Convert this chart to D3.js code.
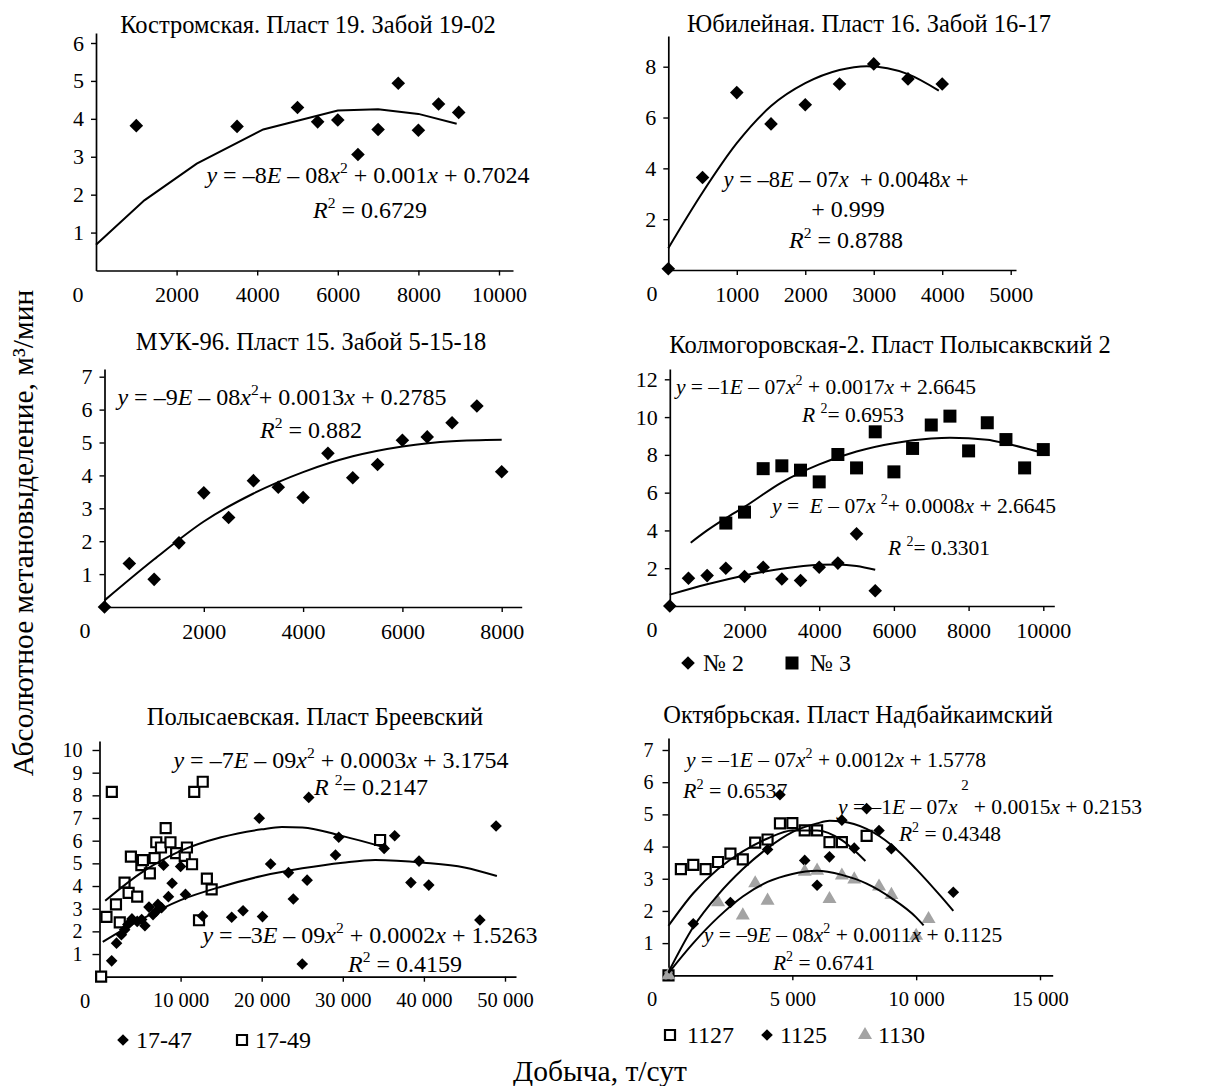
<!DOCTYPE html>
<html>
<head>
<meta charset="utf-8">
<title>Абсолютное метановыделение</title>
<style>
  body { margin: 0; background: white; }
  svg text { font-family: "Liberation Serif", "Times New Roman", serif; fill: black; }
  .title { font-size: 24.5px; text-anchor: middle; }
  .eq { white-space: pre; }
  .legend-txt { font-size: 24px; }
  .axis-label { font-size: 29.5px; text-anchor: middle; }
  .trend { fill: none; stroke: black; stroke-width: 2; }
</style>
</head>
<body>
<svg id="chart"></svg>

<script src="https://cdn.jsdelivr.net/npm/d3@7"></script>
<script>
// Костромская. Пласт 19. Забой 19-02
var p1X = [1000, 3500, 5000, 5500, 6000, 6500, 7000, 7500, 8000, 8500, 9000];
var p1Y = [3.82, 3.8, 4.3, 3.92, 3.97, 3.06, 3.72, 4.94, 3.7, 4.39, 4.17];
var p1FitX = [0, 1200, 2500, 4150, 6000, 7000, 8000, 8950];
var p1FitY = [0.68, 1.85, 2.82, 3.72, 4.22, 4.25, 4.13, 3.87];

// Юбилейная. Пласт 16. Забой 16-17
var p2X = [0, 500, 1000, 1500, 2000, 2500, 3000, 3500, 4000];
var p2Y = [0.05, 3.64, 6.98, 5.75, 6.5, 7.32, 8.11, 7.52, 7.32];
var p2FitX = [0, 500, 1000, 1500, 2000, 2500, 2900, 3500, 3950];
var p2FitY = [0.86, 3.05, 4.99, 6.45, 7.35, 7.87, 8.02, 7.71, 7.06];

// МУК-96. Пласт 15. Забой 5-15-18
var p3X = [0, 500, 1000, 1500, 2000, 2500, 3000, 3500, 4000, 4500, 5000, 5500, 6000, 6500, 7000, 7500, 8000];
var p3Y = [0, 1.32, 0.84, 1.95, 3.47, 2.72, 3.84, 3.64, 3.33, 4.67, 3.93, 4.33, 5.07, 5.17, 5.6, 6.11, 4.11];
var p3FitX = [0, 1000, 2000, 3000, 4000, 5000, 6000, 7000, 8000];
var p3FitY = [0.2, 1.45, 2.6, 3.45, 4.1, 4.58, 4.88, 5.04, 5.08];

// Колмогоровская-2. Пласт Полысаквский 2  (№ 2 и № 3)
var p4aX = [0, 500, 1000, 1500, 2000, 2500, 3000, 3500, 4000, 4500, 5000, 5500];
var p4aY = [0, 1.47, 1.61, 2.0, 1.56, 2.05, 1.43, 1.35, 2.05, 2.27, 3.82, 0.81];
var p4bX = [1500, 2000, 2500, 3000, 3500, 4000, 4500, 5000, 5500, 6000, 6500, 7000, 7500, 8000, 8500, 9000, 9500, 10000];
var p4bY = [4.39, 4.97, 7.27, 7.42, 7.19, 6.57, 8.02, 7.31, 9.22, 7.1, 8.34, 9.58, 10.05, 8.21, 9.7, 8.81, 7.31, 8.28];
var p4aFitX = [0, 1000, 2000, 3000, 4000, 4500, 5000, 5500];
var p4aFitY = [0.6, 1.15, 1.62, 1.97, 2.18, 2.2, 2.12, 1.92];
var p4bFitX = [560, 1000, 1500, 2000, 3000, 4000, 5000, 6000, 7000, 7500, 8500, 9000, 10000];
var p4bFitY = [3.35, 4.0, 4.65, 5.25, 6.55, 7.5, 8.18, 8.62, 8.86, 8.9, 8.8, 8.6, 8.1];

// Полысаевская. Пласт Бреевский  (17-47 и 17-49)
var p5aX = [1500, 2100, 2700, 3100, 3500, 4000, 4650, 5200, 5600, 6100, 6600, 7000, 7200, 7650, 7900, 8500, 8950, 10000, 10600, 12700,
            16300, 17700, 19700, 20100, 21100, 23300, 23900, 25000, 25600, 25800, 29100, 29500, 35100, 36400, 38400, 39400, 40600, 46900, 48900];
var p5aY = [0.7, 1.48, 1.85, 2.07, 2.3, 2.55, 2.44, 2.52, 2.25, 3.07, 2.74, 2.89, 3.19, 3.04, 4.92, 3.53, 4.12, 4.86, 3.63, 2.68,
            2.62, 2.91, 6.99, 2.65, 4.97, 4.59, 3.43, 0.56, 4.26, 7.91, 5.37, 6.15, 5.66, 6.22, 4.15, 5.1, 4.04, 2.5, 6.65];
var p5bX = [200, 860, 1520, 2030, 2500, 3090, 3590, 3870, 4650, 5160, 5350, 6210, 6800, 7000, 7580, 8160, 8750, 9450, 10510, 10780,
            11410, 11680, 12270, 12730, 13240, 13830, 34600];
var p5bY = [0, 2.64, 8.15, 3.19, 2.4, 4.15, 3.7, 5.3, 3.53, 4.92, 5.14, 4.56, 5.23, 5.93, 5.7, 6.55, 5.93, 5.45, 5.33, 5.7,
            4.96, 8.15, 2.49, 8.6, 4.33, 3.85, 6.03];
var p5aFitX = [400, 5000, 10000, 15000, 20000, 25000, 30000, 34000, 40000, 45000, 49000];
var p5aFitY = [1.54, 2.5, 3.38, 3.97, 4.44, 4.78, 5.03, 5.15, 5.03, 4.82, 4.44];
var p5bFitX = [700, 5000, 10000, 15000, 20000, 22500, 25000, 30000, 35000];
var p5bFitY = [3.35, 4.55, 5.55, 6.15, 6.5, 6.6, 6.58, 6.2, 5.72];

// Октябрьская. Пласт Надбайкаимский  (1127, 1125, 1130)
var p6aX = [0, 500, 1000, 1500, 2000, 2500, 3000, 3500, 4000, 4500, 5000, 5500, 6000, 6500, 7000, 8000];
var p6aY = [0, 3.3, 3.43, 3.3, 3.52, 3.78, 3.6, 4.12, 4.22, 4.72, 4.73, 4.5, 4.5, 4.14, 4.14, 4.33];
var p6bX = [0, 1000, 2500, 4000, 4500, 5500, 6000, 6500, 7000, 7500, 8000, 8500, 9000, 11500];
var p6bY = [0, 1.6, 2.26, 3.91, 5.61, 3.57, 2.8, 3.68, 4.82, 3.95, 5.18, 4.5, 3.93, 2.58];
var p6cX = [0, 2000, 3000, 3500, 4000, 5500, 6000, 6500, 7000, 7500, 8500, 9000, 10000, 10500];
var p6cY = [0, 2.27, 1.86, 2.86, 2.32, 3.22, 3.25, 2.37, 3.1, 2.98, 2.76, 2.5, 1.23, 1.75];
var p6aFitX = [0, 1000, 2000, 3000, 4000, 5000, 6000, 7000, 7950];
var p6aFitY = [1.54, 2.55, 3.3, 3.85, 4.25, 4.5, 4.5, 4.2, 3.55];
var p6bFitX = [0, 1000, 2000, 3000, 4000, 5000, 6000, 6500, 7000, 8000, 9000, 10000, 11000, 11500];
var p6bFitY = [0.1, 1.5, 2.5, 3.3, 3.95, 4.45, 4.72, 4.8, 4.78, 4.55, 4.05, 3.3, 2.45, 2.0];
var p6cFitX = [0, 1000, 2000, 3000, 4000, 5000, 6000, 7000, 8000, 9000, 10000, 10300];
var p6cFitY = [0.07, 1.0, 1.8, 2.45, 2.9, 3.15, 3.25, 3.12, 2.85, 2.4, 1.8, 1.55];

var W = 1227, H = 1086;
var svg = d3.select("#chart").attr("width", W).attr("height", H);

// marker shapes
function diamond(r) { return "M0," + (-r) + "L" + r + ",0L0," + r + "L" + (-r) + ",0Z"; }
function square(s) { var h = s / 2; return "M" + (-h) + "," + (-h) + "H" + h + "V" + h + "H" + (-h) + "Z"; }
function triangle(s) { var h = s * 0.866; return "M0," + (-h * 2 / 3) + "L" + (s / 2) + "," + (h / 3) + "L" + (-s / 2) + "," + (h / 3) + "Z"; }

var marks = {
  dia: { d: diamond(6.8), fill: "black" },
  diaS: { d: diamond(5.8), fill: "black" },
  sq: { d: square(13), fill: "black" },
  open: { d: square(10), fill: "white", stroke: "black" },
  tri: { d: triangle(14), fill: "#a3a3a3" }
};

function drawMark(g, m, x, y) {
  g.append("path").attr("d", m.d)
    .attr("transform", "translate(" + x + "," + y + ")")
    .attr("fill", m.fill)
    .attr("stroke", m.stroke || "none")
    .attr("stroke-width", m.stroke ? 2.2 : 0);
}

// equation text: y, E, x, R in italics, ^2 -> superscript
function eq(g, x, y, str, anchor, fs) {
  fs = fs || 24;
  var t = g.append("text").attr("class", "eq").attr("x", x).attr("y", y)
    .attr("font-size", fs).attr("text-anchor", anchor || "middle");
  var up = false, lift = Math.round(fs * 0.42);
  str.match(/\^2|[yExR]|[^yExR^]+/g).forEach(function(tok) {
    var s = t.append("tspan");
    if (tok === "^2") {
      s.attr("dy", -lift).attr("font-size", fs * 0.65).text("2");
      up = true;
      return;
    }
    if (up) { s.attr("dy", lift); up = false; }
    if (/^[yExR]$/.test(tok)) s.attr("font-style", "italic");
    s.text(tok);
  });
}

var spaced = function(d) { return d3.format(",")(d).replace(/,/g, " "); };

function panel(c) {
  var xDom = c.xMax * (c.xEnd - c.xL) / (c.xR - c.xL);
  var yDom = c.yMax * (c.yB - c.yTop) / (c.yB - c.yT);
  var x = d3.scaleLinear().domain([0, xDom]).range([c.xL, c.xEnd]);
  var y = d3.scaleLinear().domain([0, yDom]).range([c.yB, c.yTop]);
  var g = svg.append("g");

  g.append("text").attr("class", "title").attr("x", c.titleX).attr("y", c.titleY).text(c.title);

  var ax = g.append("g")
    .attr("transform", "translate(0," + c.yB + ")")
    .call(d3.axisBottom(x).tickValues(c.xTicks).tickSize(5).tickSizeOuter(0).tickPadding(11)
      .tickFormat(c.fmt || d3.format("d")));
  ax.attr("font-size", c.xFs || 22);
  var ay = g.append("g")
    .attr("transform", "translate(" + c.xL + ",0)")
    .call(d3.axisLeft(y).tickValues(c.yTicks).tickSize(c.yTick || 5).tickSizeOuter(0).tickPadding(c.yPad || 7)
      .tickFormat(d3.format("d")));
  ay.attr("font-size", c.yFs || 22);
  g.selectAll(".domain").attr("stroke-width", 1.7);
  g.selectAll(".tick line").attr("stroke-width", 1.4);

  // shared zero at the corner
  g.append("text").attr("x", c.zeroX).attr("y", c.yB + 31)
    .attr("text-anchor", "middle").attr("font-size", c.xFs || 22).text("0");

  var line = d3.line().x(function(d) { return x(d[0]); }).y(function(d) { return y(d[1]); })
    .curve(c.curve || d3.curveMonotoneX);

  c.series.forEach(function(s) {
    s.xs.forEach(function(v, i) { drawMark(g, s.mark, x(v), y(s.ys[i])); });
  });
  c.fits.forEach(function(f) {
    g.append("path").attr("class", "trend")
      .attr("d", line(d3.zip(f[0], f[1])));
  });
  c.eqs.forEach(function(e) { eq(g, e[0], e[1], e[2], e[3], e[4]); });

  (c.legend || []).forEach(function(l) {
    drawMark(g, l.mark, l.x, l.y);
    g.append("text").attr("class", "legend-txt").attr("x", l.tx).attr("y", l.y + 8).text(l.label);
  });
}

panel({
  title: "Костромская. Пласт 19. Забой 19-02", titleX: 308, titleY: 33,
  xL: 96, xR: 499, xMax: 10000, xEnd: 513, yB: 270.5, yT: 43, yMax: 6, yTop: 33,
  xTicks: [2000, 4000, 6000, 8000, 10000], yTicks: [1, 2, 3, 4, 5, 6], zeroX: 78,
  curve: d3.curveLinear,
  series: [{ xs: p1X, ys: p1Y, mark: marks.dia }],
  fits: [[p1FitX, p1FitY]],
  eqs: [[368, 183, "y = –8E – 08x^2 + 0.001x + 0.7024"], [370, 218, "R^2 = 0.6729"]]
});

panel({
  title: "Юбилейная. Пласт 16. Забой 16-17", titleX: 869, titleY: 32,
  xL: 668.3, xR: 1010.7, xMax: 5000, xEnd: 1016, yB: 270, yT: 66.7, yMax: 8, yTop: 36,
  xTicks: [1000, 2000, 3000, 4000, 5000], yTicks: [2, 4, 6, 8], zeroX: 652,
  series: [{ xs: p2X, ys: p2Y, mark: marks.dia }],
  fits: [[p2FitX, p2FitY]],
  eqs: [[846, 187, "y = –8E – 07x  + 0.0048x +", "middle", 22.5], [848, 217, "+ 0.999"], [846, 248, "R^2 = 0.8788"]]
});

panel({
  title: "МУК-96. Пласт 15. Забой 5-15-18", titleX: 311, titleY: 350,
  xL: 104.5, xR: 501.7, xMax: 8000, xEnd: 521.7, yB: 607, yT: 376.7, yMax: 7, yTop: 369,
  xTicks: [2000, 4000, 6000, 8000], yTicks: [1, 2, 3, 4, 5, 6, 7], zeroX: 85,
  series: [{ xs: p3X, ys: p3Y, mark: marks.dia }],
  fits: [[p3FitX, p3FitY]],
  eqs: [[282, 405, "y = –9E – 08x^2+ 0.0013x + 0.2785"], [311, 438, "R^2 = 0.882"]]
});

panel({
  title: "Колмогоровская-2. Пласт Полысаквский 2", titleX: 890, titleY: 353,
  xL: 669.8, xR: 1043.3, xMax: 10000, xEnd: 1054.3, yB: 606, yT: 379.3, yMax: 12, yTop: 369,
  xTicks: [2000, 4000, 6000, 8000, 10000], yTicks: [2, 4, 6, 8, 10, 12], zeroX: 652,
  series: [{ xs: p4bX, ys: p4bY, mark: marks.sq }, { xs: p4aX, ys: p4aY, mark: marks.dia }],
  fits: [[p4aFitX, p4aFitY], [p4bFitX, p4bFitY]],
  eqs: [[826, 394, "y = –1E – 07x^2 + 0.0017x + 2.6645", "middle", 21.5], [853, 422, "R ^2= 0.6953", "middle", 21.5],
        [914, 513, "y =  E – 07x ^2+ 0.0008x + 2.6645", "middle", 21.5], [939, 555, "R ^2= 0.3301", "middle", 21.5]],
  legend: [{ mark: marks.dia, x: 688, y: 663, tx: 703, label: "№ 2" },
           { mark: marks.sq, x: 792, y: 663, tx: 810, label: "№ 3" }]
});

panel({
  title: "Полысаевская. Пласт Бреевский", titleX: 315, titleY: 725,
  xL: 99.5, xR: 505, xMax: 50000, xEnd: 516, yB: 976.7, yT: 750, yMax: 10, yTop: 741,
  xTicks: [10000, 20000, 30000, 40000, 50000], yTicks: [1, 2, 3, 4, 5, 6, 7, 8, 9, 10], zeroX: 85,
  fmt: spaced, xFs: 20.5, yFs: 20, yTick: 7, yPad: 10,
  series: [{ xs: p5bX, ys: p5bY, mark: marks.open }, { xs: p5aX, ys: p5aY, mark: marks.diaS }],
  fits: [[p5aFitX, p5aFitY], [p5bFitX, p5bFitY]],
  eqs: [[341, 768, "y = –7E – 09x^2 + 0.0003x + 3.1754"], [371, 795, "R ^2= 0.2147"],
        [370, 943, "y = –3E – 09x^2 + 0.0002x + 1.5263"], [405, 972, "R^2 = 0.4159"]],
  legend: [{ mark: marks.diaS, x: 123, y: 1040, tx: 136, label: "17-47" },
           { mark: marks.open, x: 242, y: 1040, tx: 255, label: "17-49" }]
});

panel({
  title: "Октябрьская. Пласт Надбайкаимский", titleX: 858, titleY: 723,
  xL: 668.5, xR: 1040, xMax: 15000, xEnd: 1052.7, yB: 975.3, yT: 750, yMax: 7, yTop: 738,
  xTicks: [5000, 10000, 15000], yTicks: [1, 2, 3, 4, 5, 6, 7], zeroX: 652,
  fmt: spaced, xFs: 20.5, yFs: 20, yTick: 6, yPad: 9,
  series: [{ xs: p6aX, ys: p6aY, mark: marks.open }, { xs: p6bX, ys: p6bY, mark: marks.diaS },
           { xs: p6cX, ys: p6cY, mark: marks.tri }],
  fits: [[p6aFitX, p6aFitY], [p6bFitX, p6bFitY], [p6cFitX, p6cFitY]],
  eqs: [[836, 767, "y = –1E – 07x^2 + 0.0012x + 1.5778", "middle", 21.5], [683, 798, "R^2 = 0.6537", "start", 22],
        [990, 814, "y = –1E – 07x   + 0.0015x + 0.2153", "middle", 21.5], [950, 841, "R^2 = 0.4348", "middle", 21.5],
        [853, 942, "y = –9E – 08x^2 + 0.0011x + 0.1125", "middle", 21.5], [824, 970, "R^2 = 0.6741", "middle", 21.5]],
  legend: [{ mark: marks.open, x: 670, y: 1035, tx: 687, label: "1127" },
           { mark: marks.diaS, x: 767, y: 1035, tx: 780, label: "1125" },
           { mark: marks.tri, x: 865, y: 1035, tx: 878, label: "1130" }]
});

// lone exponent of the 1125 equation, set high above its line
svg.append("text").attr("x", 965).attr("y", 790).attr("font-size", 15)
  .attr("text-anchor", "middle").text("2");

// shared axis titles
svg.append("text").attr("class", "axis-label")
  .attr("transform", "translate(33,533) rotate(-90)")
  .text("Абсолютное метановыделение, м³/мин");
svg.append("text").attr("class", "axis-label")
  .attr("x", 600).attr("y", 1081)
  .text("Добыча, т/сут");
</script>
</body>
</html>
